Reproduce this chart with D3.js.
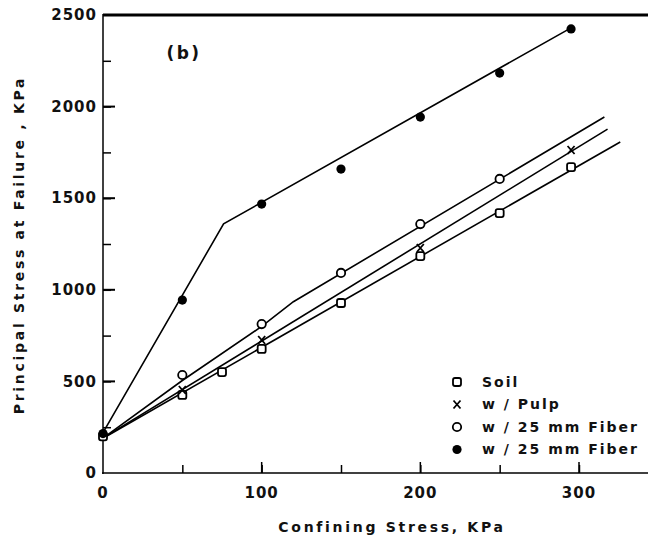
<!DOCTYPE html>
<html>
<head>
<meta charset="utf-8">
<script src="https://cdn.jsdelivr.net/npm/d3@7"></script>
<style>
  body { margin: 0; background: #fff; }
  svg text { font-family: "DejaVu Sans", sans-serif; font-weight: bold; fill: #111; }
</style>
</head>
<body>
<svg width="648" height="543"></svg>
<script>
var soilX = [0, 50, 75, 100, 150, 200, 250, 295];
var soilY = [200, 426, 551, 677, 928, 1184, 1419, 1670];
var pulpX = [50, 100, 200, 295];
var pulpY = [453, 726, 1228, 1763];
var fiberOpenX = [50, 100, 150, 200, 250];
var fiberOpenY = [535, 813, 1092, 1359, 1605];
var fiberFilledX = [0, 50, 100, 150, 200, 250, 295];
var fiberFilledY = [215, 944, 1468, 1659, 1943, 2183, 2424];

// fitted lines drawn through them
var soilFitX = [0, 326];
var soilFitY = [190, 1807];
var pulpFitX = [0, 318];
var pulpFitY = [190, 1877];
var fiberOpenFitX = [0, 50, 100, 120, 316];
var fiberOpenFitY = [190, 505, 800, 935, 1943];
var fiberFilledFitX = [0, 76, 295];
var fiberFilledFitY = [220, 1360, 2430];

var xTicks = [0, 100, 200, 300];
var yTicks = [0, 500, 1000, 1500, 2000, 2500];
var legendLabels = ["Soil", "w / Pulp", "w / 25 mm Fiber", "w / 25 mm Fiber"];
var legendShapes = ["square", "cross", "circle", "dot"];

var svg = d3.select("svg");
var x = d3.scaleLinear().domain([0, 300]).range([103, 579]);
var y = d3.scaleLinear().domain([0, 2500]).range([473, 15]);

function pairs(xs, ys) { return xs.map(function(v, i) { return [v, ys[i]]; }); }

// top frame line
svg.append("line")
    .attr("x1", x(0)).attr("x2", 648)
    .attr("y1", y(2500)).attr("y2", y(2500))
    .attr("stroke", "#000").attr("stroke-width", 3);

// x axis, ticks pointing up into the plot
var xAxis = svg.append("g").attr("transform", "translate(0," + y(0) + ")");
xAxis.append("line").attr("x1", x(0) - 1).attr("x2", 648)
    .attr("stroke", "#000").attr("stroke-width", 3);
xAxis.call(d3.axisBottom(x).tickValues(d3.range(50, 340, 50)).tickSize(-8).tickFormat(""))
    .call(function(g) { g.select(".domain").remove(); })
    .selectAll("line").attr("stroke-width", 1.5);
xAxis.selectAll(".lab").data(xTicks).enter().append("line")
    .attr("class", "lab")
    .attr("x1", function(d) { return x(d); }).attr("x2", function(d) { return x(d); })
    .attr("y1", 0).attr("y2", function(d) { return d === 0 ? 0 : -11; })
    .attr("stroke", "#000").attr("stroke-width", 1.5);
xAxis.selectAll("text.tl").data(xTicks).enter().append("text")
    .attr("class", "tl")
    .attr("x", function(d) { return x(d); })
    .attr("y", 25)
    .attr("text-anchor", "middle")
    .attr("font-size", 15)
    .attr("letter-spacing", 1)
    .text(function(d) { return d; });

// y axis, ticks pointing right into the plot
var yAxis = svg.append("g").attr("transform", "translate(" + x(0) + ",0)");
yAxis.append("line").attr("y1", y(2500) - 1).attr("y2", y(0) + 1)
    .attr("stroke", "#000").attr("stroke-width", 3);
yAxis.call(d3.axisLeft(y).tickValues(d3.range(250, 2500, 250)).tickSize(-8).tickFormat(""))
    .call(function(g) { g.select(".domain").remove(); })
    .selectAll("line").attr("stroke-width", 1.5);
yAxis.selectAll(".maj").data(yTicks.slice(1, 5)).enter().append("line")
    .attr("class", "maj")
    .attr("x1", 0).attr("x2", 12)
    .attr("y1", function(d) { return y(d); }).attr("y2", function(d) { return y(d); })
    .attr("stroke", "#000").attr("stroke-width", 2);
yAxis.selectAll("text.tl").data(yTicks).enter().append("text")
    .attr("class", "tl")
    .attr("x", -6)
    .attr("y", function(d) { return y(d); })
    .attr("dy", "0.35em")
    .attr("text-anchor", "end")
    .attr("font-size", 15)
    .attr("letter-spacing", 1)
    .text(function(d) { return d; });

// axis titles
svg.append("text")
    .attr("x", 392).attr("y", 532)
    .attr("text-anchor", "middle")
    .attr("font-size", 14)
    .attr("letter-spacing", 2.7)
    .text("Confining  Stress, KPa");
svg.append("text")
    .attr("transform", "translate(24,245) rotate(-90)")
    .attr("text-anchor", "middle")
    .attr("font-size", 14)
    .attr("letter-spacing", 2.7)
    .text("Principal  Stress  at  Failure , KPa");
svg.append("text")
    .attr("x", 184).attr("y", 59)
    .attr("text-anchor", "middle")
    .attr("font-size", 17)
    .attr("letter-spacing", 2.5)
    .text("(b)");

// fitted lines
var line = d3.line().x(function(d) { return x(d[0]); }).y(function(d) { return y(d[1]); });
var fits = [
    pairs(soilFitX, soilFitY),
    pairs(pulpFitX, pulpFitY),
    pairs(fiberOpenFitX, fiberOpenFitY),
    pairs(fiberFilledFitX, fiberFilledFitY)
];
svg.append("g").selectAll("path").data(fits).enter().append("path")
    .attr("d", line)
    .attr("fill", "none")
    .attr("stroke", "#000")
    .attr("stroke-width", 1.6);

// markers
function drawMarker(g, shape, cx, cy) {
    if (shape === "square") {
        g.append("rect").attr("x", cx - 4).attr("y", cy - 4)
            .attr("width", 8).attr("height", 8).attr("rx", 2)
            .attr("fill", "#fff").attr("stroke", "#000").attr("stroke-width", 1.8);
    } else if (shape === "circle") {
        g.append("circle").attr("cx", cx).attr("cy", cy).attr("r", 4.2)
            .attr("fill", "#fff").attr("stroke", "#000").attr("stroke-width", 1.8);
    } else if (shape === "dot") {
        g.append("circle").attr("cx", cx).attr("cy", cy).attr("r", 4.6)
            .attr("fill", "#000");
    } else {
        g.append("path")
            .attr("d", "M" + (cx - 3.5) + "," + (cy - 4) + "L" + (cx + 3.5) + "," + (cy + 4) +
                       "M" + (cx + 3.5) + "," + (cy - 4) + "L" + (cx - 3.5) + "," + (cy + 4))
            .attr("stroke", "#000").attr("stroke-width", 1.8);
    }
}
var series = [
    { shape: "square", pts: pairs(soilX, soilY) },
    { shape: "cross", pts: pairs(pulpX, pulpY) },
    { shape: "circle", pts: pairs(fiberOpenX, fiberOpenY) },
    { shape: "dot", pts: pairs(fiberFilledX, fiberFilledY) }
];
var markG = svg.append("g");
series.forEach(function(s) {
    s.pts.forEach(function(p) { drawMarker(markG, s.shape, x(p[0]), y(p[1])); });
});

// legend
var legend = svg.append("g");
legendLabels.forEach(function(lab, i) {
    var ly = 382 + i * 22.5;
    drawMarker(legend, legendShapes[i], 457, ly);
    legend.append("text")
        .attr("x", 482).attr("y", ly)
        .attr("dy", "0.35em")
        .attr("font-size", 14)
        .attr("letter-spacing", 2)
        .text(lab);
});
</script>
</body>
</html>
